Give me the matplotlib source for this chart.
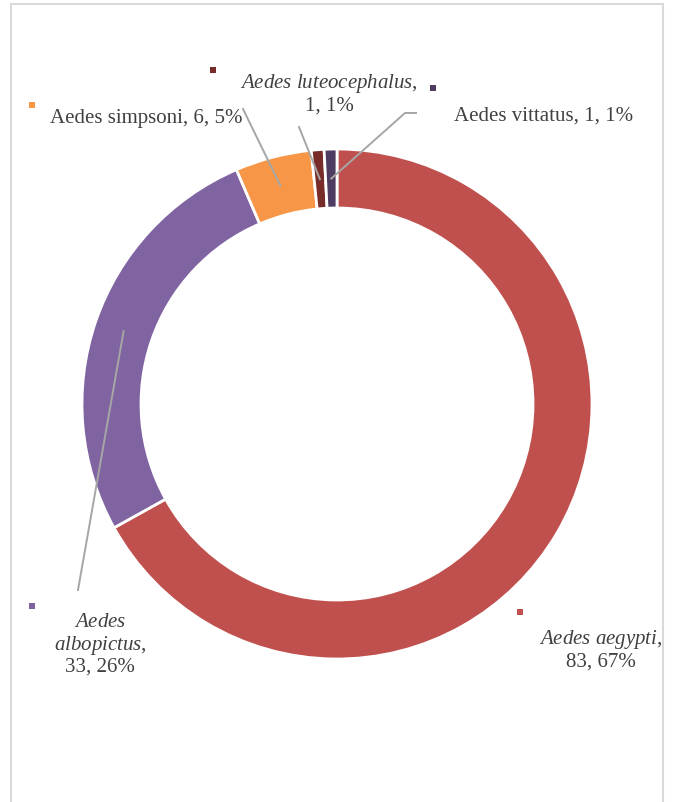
import numpy as np
import matplotlib.pyplot as plt
from matplotlib import patches

plt.rcParams['font.family'] = ['Liberation Serif', 'DejaVu Serif']
plt.rcParams['mathtext.fontset'] = 'custom'
plt.rcParams['mathtext.rm'] = 'Liberation Serif'
plt.rcParams['mathtext.it'] = 'Liberation Serif:italic'

# species counts, clockwise from 12 o'clock
species = ['Aedes aegypti', 'Aedes albopictus', 'Aedes simpsoni',
           'Aedes luteocephalus', 'Aedes vittatus']
counts = [83, 33, 6, 1, 1]
pct = [67, 26, 5, 1, 1]
colors = ['#C0504D', '#8064A2', '#F79646', '#772C2A', '#4D3B62']

W, H = 675, 802
CX, CY = 337, H - 404
R_OUT, RING = 255, 59
TXT = '#404040'
FS = 15

fig = plt.figure(figsize=(W / 100, H / 100), dpi=100)
ax = fig.add_axes([0, 0, 1, 1])

wedges, _ = ax.pie(counts, colors=colors, startangle=90, counterclock=False,
                   center=(CX, CY), radius=R_OUT, frame=True,
                   wedgeprops=dict(width=RING, edgecolor='white', linewidth=2))
ax.set_xlim(0, W)
ax.set_ylim(0, H)
ax.set_aspect('equal')
ax.axis('off')


def mid_point(w):
    ang = np.deg2rad((w.theta1 + w.theta2) / 2)
    r = R_OUT - RING / 2
    return CX + r * np.cos(ang), CY + r * np.sin(ang)


def it(name):
    return r'$\mathit{' + name.replace(' ', r'\ ') + '}$'


frame = patches.Rectangle((11, -10), 652, H - 4 + 10, fill=False,
                          edgecolor='#D9D9D9', linewidth=1.5, zorder=5)
ax.add_patch(frame)

# label layout: text anchor, marker position, leader start (None = no leader)
labels = [
    dict(lines=[it(species[0]) + ',', f'{counts[0]}, {pct[0]}%'],
         xy=(601, H - 650), ha='center', mark=(520, H - 612), lead=None),
    dict(lines=[it('Aedes'), it('albopictus') + ',', f'{counts[1]}, {pct[1]}%'],
         xy=(100, H - 645), ha='center', mark=(32, H - 606),
         lead=[(78, H - 590)]),
    dict(lines=[f'{species[2]}, {counts[2]}, {pct[2]}%'],
         xy=(50, H - 118), ha='left', mark=(32, H - 105),
         lead=[(243, H - 109)]),
    dict(lines=[it(species[3]) + ',', f'{counts[3]}, {pct[3]}%'],
         xy=(329, H - 94), ha='center', mark=(213, H - 70),
         lead=[(299, H - 127)]),
    dict(lines=[f'{species[4]}, {counts[4]}, {pct[4]}%'],
         xy=(454, H - 116), ha='left', mark=(433, H - 88),
         lead=[(416, H - 113), (405, H - 113)]),
]

for w, c, lab in zip(wedges, colors, labels):
    t = ax.text(*lab['xy'], '\n'.join(lab['lines']), ha=lab['ha'],
                va='center', fontsize=FS, color=TXT, linespacing=1.1,
                multialignment='center', zorder=4)
    t.set_clip_path(frame)
    ax.scatter(*lab['mark'], marker='s', s=22, color=c, linewidths=0,
               zorder=4)
    if lab['lead']:
        mx, my = mid_point(w)
        pts = lab['lead'] + [(mx, my)]
        ax.plot([p[0] for p in pts], [p[1] for p in pts], color='#A6A6A6',
                linewidth=1.4, zorder=3)

fig.savefig('out.png', dpi=100, facecolor='white')
